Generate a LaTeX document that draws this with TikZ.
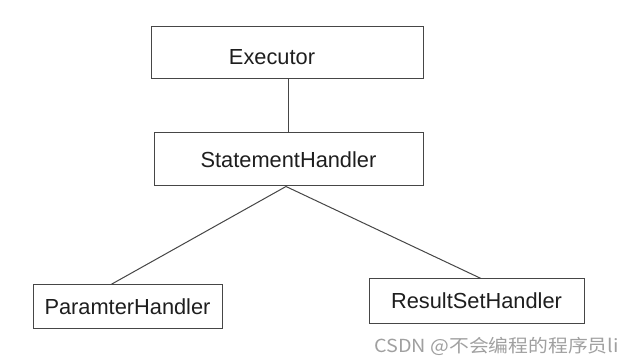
\documentclass[tikz,border=0pt]{standalone}
\usepackage{fontspec}
\setmainfont{Liberation Sans}
\newfontfamily\cjkfont{Noto Sans CJK SC}
\usetikzlibrary{positioning}
\usepackage{xcolor}
\definecolor{BoxGray}{RGB}{70,70,70}
\definecolor{TextDark}{RGB}{30,30,30}
\definecolor{MarkGray}{RGB}{160,160,160}

\begin{document}
\begin{tikzpicture}[
x=1pt,y=-1pt,
box/.style={rectangle,draw=BoxGray,line width=1pt,fill=white,inner sep=0pt,
text=TextDark,font=\fontsize{21.8}{24}\selectfont},
link/.style={draw=BoxGray,line width=1pt}
]
\useasboundingbox[fill=white] (0,0) rectangle (629,363);
\node[box,minimum width=272pt,minimum height=52pt,
label={[xshift=-15pt,yshift=-4pt,text=TextDark,font=\fontsize{21.8}{24}\selectfont]center:Executor}] (exec) at (287,53) {};
\node[box,minimum width=269pt,minimum height=53pt] (stmt) at (288.5,159.5) {StatementHandler};
\node[box,minimum width=189pt,minimum height=43pt] (param) at (127.5,306.5) {ParamterHandler};
\node[box,minimum width=215pt,minimum height=44pt] (result) at (476.5,301) {ResultSetHandler};
\node[anchor=west,inner sep=0pt,xscale=1.1,text=MarkGray,font=\cjkfont\fontsize{18}{20}\selectfont] (mark) at (374,346) {CSDN @不会编程的程序员li};
\draw[link] ([xshift=1pt]exec.south) -- ([xshift=-0.5pt]stmt.north);
\draw[link] ([xshift=-2.5pt]stmt.south) -- ([xshift=-16.5pt]param.north);
\draw[link] ([xshift=-2.5pt]stmt.south) -- ([xshift=4.5pt]result.north);
\end{tikzpicture}
\end{document}
